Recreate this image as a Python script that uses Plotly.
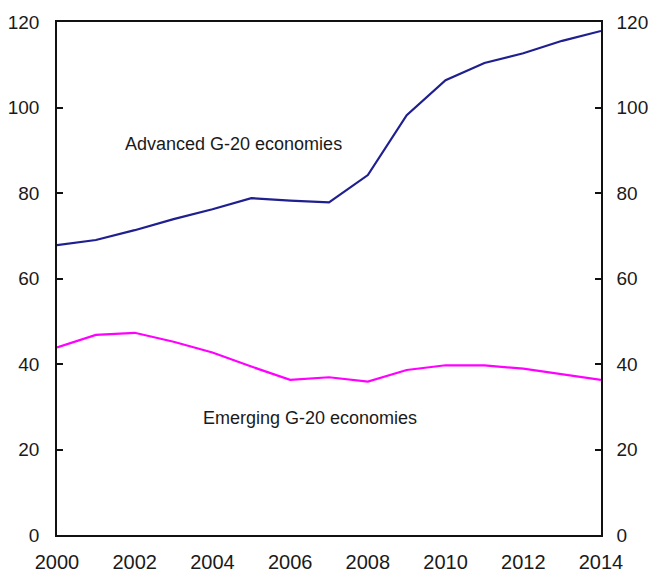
import plotly.graph_objects as go

years = list(range(2000, 2015))
advanced = [67.8, 69.0, 71.3, 73.9, 76.2, 78.8, 78.2, 77.8, 84.2, 98.2, 106.4, 110.4, 112.7, 115.6, 117.9]
emerging = [43.9, 46.8, 47.3, 45.2, 42.7, 39.4, 36.3, 36.9, 35.9, 38.6, 39.7, 39.7, 38.9, 37.6, 36.3]
y_ticks = [0, 20, 40, 60, 80, 100, 120]
x_ticks = list(range(2000, 2015, 2))

fig = go.Figure()
fig.add_trace(go.Scatter(x=years, y=advanced, mode="lines",
                         line=dict(color="#1f1f8f", width=2.2), showlegend=False))
fig.add_trace(go.Scatter(x=years, y=emerging, mode="lines",
                         line=dict(color="#ff00ff", width=2.2), showlegend=False))
# invisible trace on y2 to activate right axis
fig.add_trace(go.Scatter(x=[years[0]], y=[advanced[0]], yaxis="y2", mode="lines",
                         line=dict(width=0), hoverinfo="skip", showlegend=False))

yfont = dict(family="Liberation Sans, Arial, sans-serif", size=19, color="#1a1a1a")
xfont = dict(family="Liberation Sans, Arial, sans-serif", size=20, color="#1a1a1a")
afont = dict(family="Liberation Sans, Arial, sans-serif", size=18, color="#1a1a1a")

fig.update_layout(
    width=652, height=572,
    margin=dict(l=57, r=51, t=22, b=37, autoexpand=False),
    paper_bgcolor="white", plot_bgcolor="white",
    font=yfont,
    xaxis=dict(range=[2000, 2014], tickvals=x_ticks, ticktext=[str(v) for v in x_ticks],
               showgrid=False, zeroline=False, showline=True, linecolor="#111", linewidth=1.5,
               mirror=True, ticks="", ticklabelstandoff=8, tickfont=xfont),
    yaxis=dict(range=[0, 120], tickvals=y_ticks, showgrid=False, zeroline=False,
               showline=True, linecolor="#111", linewidth=1.5,
               ticks="inside", ticklen=6, tickcolor="#111", tickwidth=1.5,
               ticklabelstandoff=12, tickfont=yfont),
    yaxis2=dict(range=[0, 120], tickvals=y_ticks, overlaying="y", side="right",
                showgrid=False, zeroline=False, showline=True, linecolor="#111", linewidth=1.5,
                ticks="inside", ticklen=6, tickcolor="#111", tickwidth=1.5,
                ticklabelstandoff=10, tickfont=yfont),
    annotations=[
        dict(x=2004.55, y=91.5, xref="x", yref="y", text="Advanced G-20 economies",
             showarrow=False, font=afont),
        dict(x=2006.5, y=27.4, xref="x", yref="y", text="Emerging G-20 economies",
             showarrow=False, font=afont),
    ],
)

fig.write_html(
    "out.html",
    config={"displayModeBar": False},
    post_script="document.body.style.margin='0';document.body.style.overflow='hidden';",
)
